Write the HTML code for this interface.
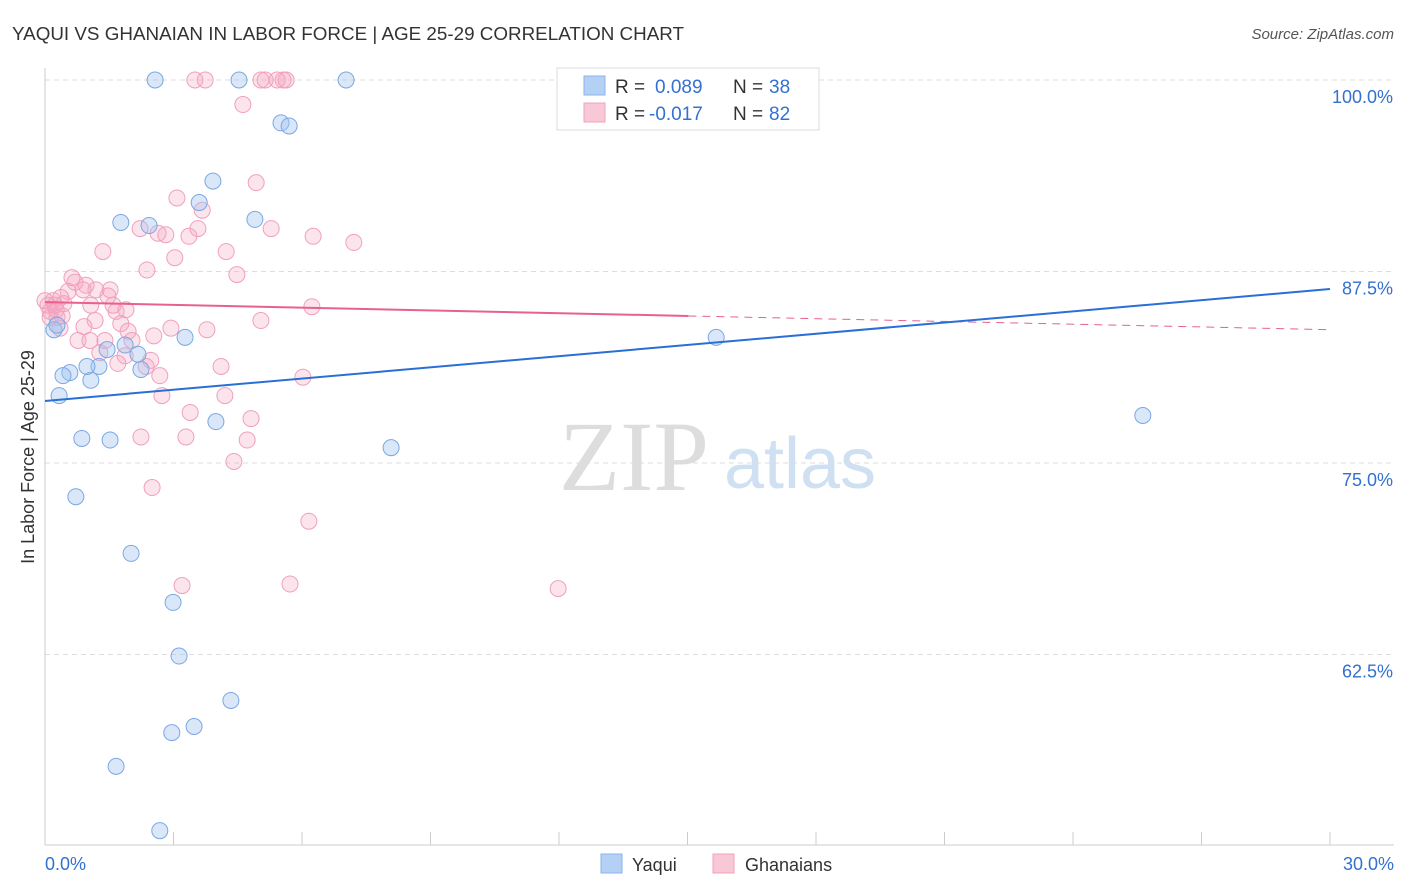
<!DOCTYPE html>
<html><head><meta charset="utf-8"><style>
body{margin:0;background:#fff;font-family:"Liberation Sans",sans-serif;}
svg{display:block}
</style></head><body>
<svg id="chart" width="1406" height="892">
<text x="12" y="40" font-size="18" fill="#333" textLength="672" lengthAdjust="spacingAndGlyphs">YAQUI VS GHANAIAN IN LABOR FORCE | AGE 25-29 CORRELATION CHART</text>
<text x="1394" y="39" font-size="15" fill="#555" text-anchor="end" font-style="italic">Source: ZipAtlas.com</text>
<text x="634" y="490" font-size="100" fill="#ddd" text-anchor="middle" font-family="Liberation Serif,serif">ZIP</text>
<text x="800" y="488" font-size="72" fill="#cfe0f3" text-anchor="middle">atlas</text>
<text transform="translate(34,457) rotate(-90)" font-size="18" fill="#333" text-anchor="middle">In Labor Force | Age 25-29</text>
<g id="grid"></g><g id="marks"></g>
<g>
<rect x="557" y="68" width="262" height="62" fill="#fff" stroke="#ddd"/>
<rect x="584" y="76" width="21" height="19" fill="#b4d0f4" stroke="#8ab4e8"/>
<text x="615" y="93" font-size="19" fill="#333">R =</text><text x="655" y="93" font-size="19" fill="#3370d0">0.089</text>
<text x="733" y="93" font-size="19" fill="#333">N =</text><text x="769" y="93" font-size="19" fill="#3370d0">38</text>
<rect x="584" y="103" width="21" height="19" fill="#f9c8d6" stroke="#f0a0bd"/>
<text x="615" y="120" font-size="19" fill="#333">R =</text><text x="649" y="120" font-size="19" fill="#3370d0">-0.017</text>
<text x="733" y="120" font-size="19" fill="#333">N =</text><text x="769" y="120" font-size="19" fill="#3370d0">82</text>
</g>
<g>
<rect x="601" y="854" width="21" height="19" fill="#b4d0f4" stroke="#8ab4e8"/>
<text x="632" y="871" font-size="18" fill="#333">Yaqui</text>
<rect x="713" y="854" width="21" height="19" fill="#f9c8d6" stroke="#f0a0bd"/>
<text x="745" y="871" font-size="18" fill="#333">Ghanaians</text>
</g>
</svg>
<script>
const yTicks=[100,87.5,75,62.5];
const yTickLabels=["100.0%","87.5%","75.0%","62.5%"];
const xTickVals=[0,3,6,9,12,15,18,21,24,27,30];
const yaquiX=[2.57,4.53,7.03,5.51,5.70,3.92,3.60,1.77,2.43,4.90,0.21,0.28,3.27,1.87,1.45,2.17,0.58,0.42,1.07,1.26,0.98,2.24,0.33,0.86,1.52,3.99,8.08,0.72,2.01,2.99,3.13,4.34,3.48,2.96,1.66,2.68,15.67,25.63];
const yaquiY=[100,100,100,97.2,97.0,93.4,92.0,90.7,90.5,90.9,83.7,84.0,83.2,82.7,82.4,82.1,80.9,80.7,80.4,81.3,81.3,81.1,79.4,76.6,76.5,77.7,76.0,72.8,69.1,65.9,62.4,59.5,57.8,57.4,55.2,51.0,83.2,78.1];
const ghX=[3.50,3.74,5.04,5.14,5.42,5.56,5.63,4.62,4.93,3.08,3.67,2.22,2.64,2.82,3.57,3.36,5.28,6.26,7.21,1.35,3.03,2.38,4.23,4.48,0.63,0.70,0.96,1.52,1.47,0.54,0.37,0.44,0.19,0.07,0.12,0.26,0.28,1.07,1.17,1.66,1.89,1.77,0.91,0.35,6.23,5.04,3.78,2.94,2.54,1.94,2.03,0.77,1.05,1.40,1.28,1.87,2.47,2.36,1.70,2.68,4.11,6.02,2.73,4.20,3.39,4.81,2.24,3.29,4.72,4.41,2.50,6.16,3.20,5.72,11.98,0.0,0.12,0.23,1.19,0.89,1.59,0.40];
const ghY=[100,100,100,100,100,100,100,98.4,93.3,92.3,91.5,90.3,90.0,89.9,90.3,89.8,90.3,89.8,89.4,88.8,88.4,87.6,88.8,87.3,87.1,86.8,86.6,86.3,85.9,86.2,85.8,85.4,85.6,85.3,84.9,85.0,84.5,85.3,84.3,84.9,85.0,84.1,83.9,83.8,85.2,84.3,83.7,83.8,83.3,83.6,83.0,83.0,83.0,83.0,82.2,82.0,81.7,81.3,81.5,80.7,81.3,80.6,79.4,79.4,78.3,77.9,76.7,76.7,76.5,75.1,73.4,71.2,67.0,67.1,66.8,85.6,84.5,85.3,86.3,86.3,85.3,84.6];
const yaquiTrend=[79.05,86.36];
const ghTrend=[85.5,83.7];
const X=v=>45+v/30*1285, Y=v=>80+(100-v)*15.32;
const NS="http://www.w3.org/2000/svg";
function mk(t,a,p){const e=document.createElementNS(NS,t);for(const k in a)e.setAttribute(k,a[k]);p.appendChild(e);return e;}
const g=document.getElementById('grid'), m=document.getElementById('marks');
yTicks.forEach((v,i)=>{
 const l=mk('line',{x1:45,x2:1394,y1:Y(v),y2:Y(v),stroke:'#ddd','stroke-dasharray':'5,4'},g);
 
 
 const t=mk('text',{x:1393,y:Y(v)+23,'font-size':18,fill:'#3370d0','text-anchor':'end'},g);t.textContent=yTickLabels[i];
 
 
});
mk('line',{x1:45,x2:45,y1:68,y2:845,stroke:'#ccc'},g);
mk('line',{x1:45,x2:1394,y1:845,y2:845,stroke:'#ccc'},g);
xTickVals.forEach(v=>{const l=mk('line',{x1:X(v),x2:X(v),y1:832,y2:845,stroke:'#ccc'},g);
 
 });
let t=mk('text',{x:45,y:870,'font-size':18,fill:'#3370d0'},g);t.textContent='0.0%';


t=mk('text',{x:1394,y:870,'font-size':18,fill:'#3370d0','text-anchor':'end'},g);t.textContent='30.0%';


ghX.forEach((x,i)=>{const c=mk('circle',{cx:X(x),cy:Y(ghY[i]),r:8,fill:'rgba(245,165,192,0.3)',stroke:'#f0a0bd','stroke-width':1},m);
 
 });
yaquiX.forEach((x,i)=>{const c=mk('circle',{cx:X(x),cy:Y(yaquiY[i]),r:8,fill:'rgba(160,196,240,0.4)',stroke:'#7aa8e4','stroke-width':1},m);
 
 });
const gy=x=>ghTrend[0]+(ghTrend[1]-ghTrend[0])*x/30;
let l=mk('line',{x1:X(0),y1:Y(gy(0)),x2:X(15.02),y2:Y(gy(15.02)),stroke:'#e8608e','stroke-width':2},m);


l=mk('line',{x1:X(15.02),y1:Y(gy(15.02)),x2:X(30),y2:Y(gy(30)),stroke:'#e8608e','stroke-width':1,'stroke-dasharray':'8,6'},m);


l=mk('line',{x1:X(0),y1:Y(yaquiTrend[0]),x2:X(30),y2:Y(yaquiTrend[1]),stroke:'#2a6fd6','stroke-width':2},m);


</script>
</body></html>
